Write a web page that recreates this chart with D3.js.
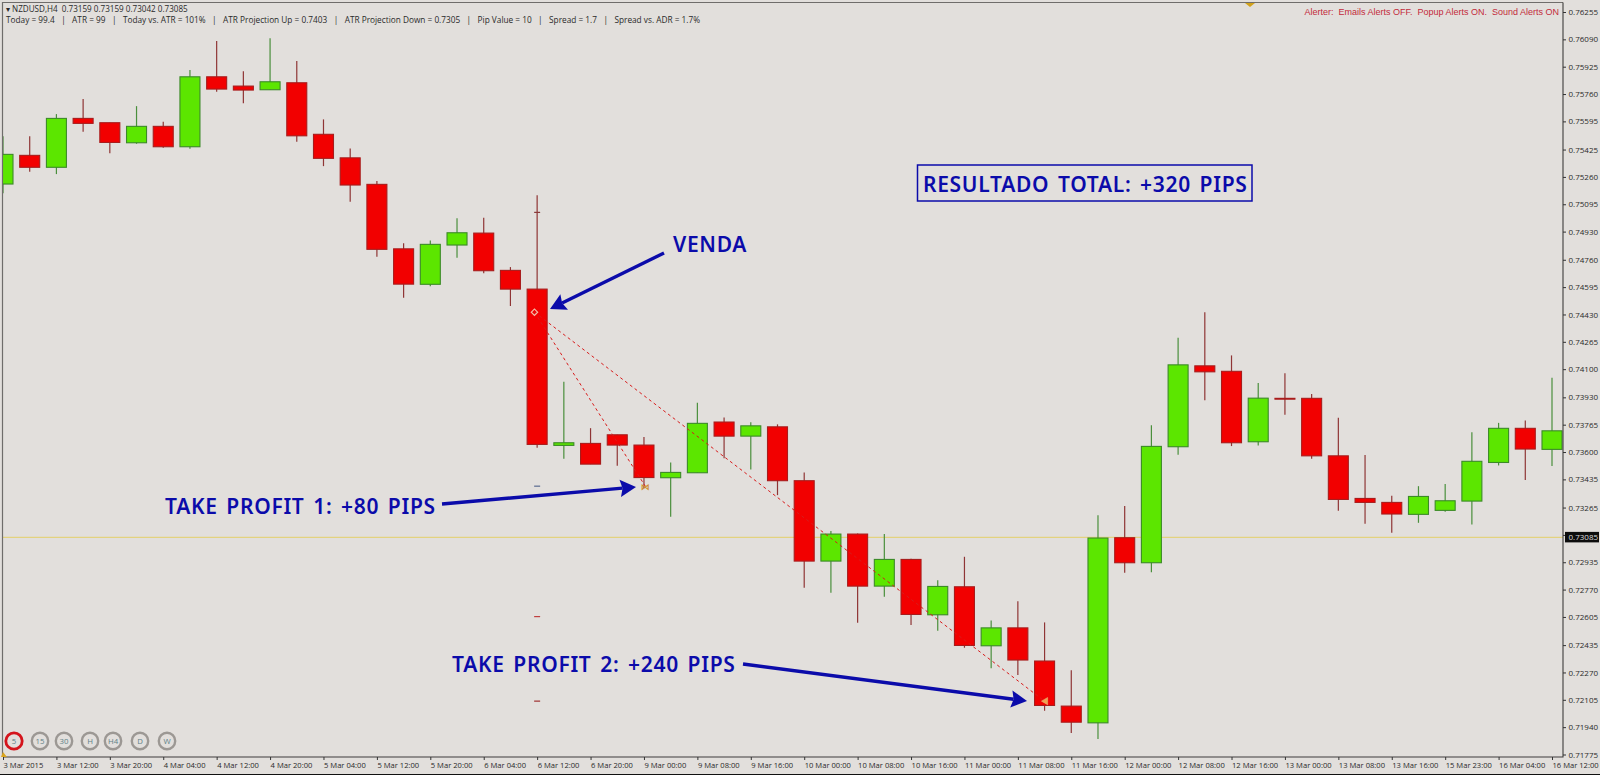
<!DOCTYPE html>
<html>
<head>
<meta charset="utf-8">
<script src="https://d3js.org/d3.v7.min.js"></script>
<style>
html,body{margin:0;padding:0;background:#e2dfdc;overflow:hidden}
svg{display:block}
.mt{font-family:"Open Sans",sans-serif;fill:#2a2a2a}
.note{font-family:"Noto Sans",sans-serif;font-weight:600;fill:#0b0baa;letter-spacing:.7px;word-spacing:2.5px}
</style>
</head>
<body>
<svg id="c" width="1600" height="775"></svg>
<script>
const opens=[.75217,.75390,.75318,.75613,.75587,.75466,.75565,.75442,.75864,.75808,.75786,.75828,.75517,.75375,.75215,.74826,.74612,.74849,.74921,.74696,.74583,.73640,.73652,.73704,.73642,.73445,.73475,.73781,.73696,.73752,.73427,.72942,.73105,.72791,.72952,.72618,.72787,.72431,.72539,.72339,.72067,.71966,.73083,.72932,.73632,.74120,.74087,.73662,.73924,.73924,.73577,.73320,.73296,.73224,.73248,.73304,.73537,.73743,.73616];
const highs=[.75506,.75506,.75639,.75730,.75587,.75687,.75593,.75905,.76080,.75897,.76096,.75959,.75607,.75432,.75235,.74859,.74877,.75010,.75013,.74716,.75150,.74024,.73744,.73704,.73690,.73537,.73897,.73809,.73779,.73767,.73477,.73123,.73109,.73105,.72956,.72827,.72968,.72584,.72699,.72572,.72284,.73219,.73274,.73761,.74289,.74443,.74183,.74016,.74076,.73950,.73807,.73582,.73336,.73394,.73407,.73719,.73776,.73791,.74048];
const lows=[.75162,.75291,.75277,.75532,.75402,.75460,.75436,.75430,.75774,.75704,.75786,.75472,.75325,.75110,.74778,.74531,.74601,.74772,.74678,.74481,.73626,.73559,.73527,.73517,.73382,.73209,.73475,.73562,.73495,.73340,.72781,.72751,.72570,.72727,.72556,.72521,.72419,.72296,.72254,.72039,.71904,.71868,.72871,.72874,.73583,.73913,.73636,.73640,.73825,.73559,.73245,.73167,.73113,.73173,.73239,.73163,.73519,.73431,.73515];
const closes=[.75396,.75318,.75613,.75583,.75468,.75565,.75442,.75864,.75790,.75784,.75834,.75508,.75372,.75211,.74823,.74613,.74853,.74923,.74694,.74583,.73646,.73656,.73527,.73642,.73446,.73477,.73773,.73696,.73758,.73427,.72942,.73105,.72791,.72952,.72620,.72789,.72433,.72539,.72345,.72071,.71970,.73081,.72932,.73634,.74126,.74084,.73656,.73925,.73919,.73577,.73314,.73296,.73226,.73332,.73306,.73544,.73743,.73618,.73728];
const timeLabels=["3 Mar 2015","3 Mar 12:00","3 Mar 20:00","4 Mar 04:00","4 Mar 12:00","4 Mar 20:00","5 Mar 04:00","5 Mar 12:00","5 Mar 20:00","6 Mar 04:00","6 Mar 12:00","6 Mar 20:00","9 Mar 00:00","9 Mar 08:00","9 Mar 16:00","10 Mar 00:00","10 Mar 08:00","10 Mar 16:00","11 Mar 00:00","11 Mar 08:00","11 Mar 16:00","12 Mar 00:00","12 Mar 08:00","12 Mar 16:00","13 Mar 00:00","13 Mar 08:00","13 Mar 16:00","15 Mar 23:00","16 Mar 04:00","16 Mar 12:00"];
const priceTicks=[.76255,.76090,.75925,.75760,.75595,.75425,.75260,.75095,.74930,.74760,.74595,.74430,.74265,.74100,.73930,.73765,.73600,.73435,.73265,.73100,.72935,.72770,.72605,.72435,.72270,.72105,.71940,.71775];
const currentPrice=.73085;
const tradeFrom=[[19.9,.74444],[19.9,.74444]];
const tradeTo=[[24.05,.73394],[39,.72097]];
const levelMarks=[.75046,.73394,.72607,.72097];
const levelColors=["#8a3a3a","#5a6a90","#c04040","#a03030"];
const statLine=["Today = 99.4","ATR = 99","Today vs. ATR = 101%","ATR Projection Up = 0.7403","ATR Projection Down = 0.7305","Pip Value = 10","Spread = 1.7","Spread vs. ADR = 1.7%"];
const periods=["5","15","30","H","H4","D","W"];

const svg=d3.select("#c");
const W=1600,H=775,plotL=3,plotR=1563,plotT=3,plotB=757;
const x=d3.scaleLinear().domain([0,58]).range([3,1552]);
const y=d3.scaleLinear().domain([.76255,.71775]).range([12,754.5]);
const candles=opens.map((o,i)=>({i,o,h:highs[i],l:lows[i],c:closes[i],up:closes[i]>=o}));

svg.append("rect").attr("width",W).attr("height",H).attr("fill","#e2dfdc");

// current price line
svg.append("line").attr("x1",plotL).attr("x2",plotR).attr("y1",y(currentPrice)).attr("y2",y(currentPrice))
  .attr("stroke","#e3d27f").attr("stroke-width",1.4);

// candles (clipped to the plot)
svg.append("clipPath").attr("id","plot").append("rect").attr("x",plotL).attr("y",plotT).attr("width",plotR-plotL).attr("height",plotB-plotT);
const g=svg.append("g").attr("clip-path","url(#plot)");
const bodyW=20;
const cg=g.selectAll("g.k").data(candles).join("g").attr("class","k");
cg.append("line").attr("x1",d=>x(d.i)).attr("x2",d=>x(d.i)).attr("y1",d=>y(d.h)).attr("y2",d=>y(d.l))
  .attr("stroke",d=>d.up?"#4a8f3c":"#8f3535").attr("stroke-width",1.2);
cg.append("rect").attr("x",d=>x(d.i)-bodyW/2).attr("width",bodyW)
  .attr("y",d=>y(Math.max(d.o,d.c))).attr("height",d=>Math.max(Math.abs(y(d.o)-y(d.c)),.6))
  .attr("fill",d=>d.up?"#5ce600":"#f20000").attr("stroke",d=>d.up?"#3c8a28":"#a81c1c").attr("stroke-width",1.1);

// level dashes on the entry candle's column
g.selectAll("line.lv").data(levelMarks).join("line").attr("class","lv")
  .attr("x1",x(20)-3).attr("x2",x(20)+3).attr("y1",d=>y(d)).attr("y2",d=>y(d))
  .attr("stroke",(d,i)=>levelColors[i]).attr("stroke-width",1.2);

// trade lines
g.selectAll("line.tr").data(tradeFrom).join("line").attr("class","tr")
  .attr("x1",d=>x(d[0])).attr("y1",d=>y(d[1]))
  .attr("x2",(d,i)=>x(tradeTo[i][0])).attr("y2",(d,i)=>y(tradeTo[i][1]))
  .attr("stroke","#d81c1c").attr("stroke-width",1).attr("stroke-dasharray","3 3");

// trade markers
g.append("path").attr("d",d3.symbol(d3.symbolSquare,20)())
  .attr("transform",`translate(${x(tradeFrom[0][0])},${y(tradeFrom[0][1])}) rotate(45)`)
  .attr("fill","none").attr("stroke","#f2bda6").attr("stroke-width",1.2);
g.append("text").attr("x",x(tradeTo[0][0])).attr("y",y(tradeTo[0][1])+3.5).attr("text-anchor","middle")
  .attr("font-family","DejaVu Sans").attr("font-size",9).attr("font-weight","bold").attr("fill","#cf9030").text("\u22c8");
g.append("path").attr("d",d3.symbol(d3.symbolTriangle,22)())
  .attr("transform",`translate(${x(tradeTo[1][0])+1},${y(tradeTo[1][1])}) rotate(-90)`)
  .attr("fill","#f0a050").attr("stroke","#e8b070").attr("stroke-width",.6);

// frame
svg.append("path").attr("d",`M${plotL-.5},${plotB}V${plotT-.5}H${plotR}`).attr("fill","none").attr("stroke","#6f6d6b").attr("stroke-width",1.2);
svg.append("path").attr("d",`M${plotR},${plotT-.5}V${plotB}H${plotL}`).attr("fill","none").attr("stroke","#3e3d3c").attr("stroke-width",1.1);

// axes
const yAxis=d3.axisRight(y).tickValues(priceTicks).tickFormat(d3.format(".5f")).tickSize(3).tickPadding(2.5);
const ya=svg.append("g").attr("transform",`translate(${plotR},0)`).call(yAxis);
const xAxis=d3.axisBottom(x).tickValues(timeLabels.map((_,i)=>i*2)).tickFormat((d,i)=>timeLabels[i]).tickSize(3).tickPadding(2);
const xa=svg.append("g").attr("transform",`translate(0,${plotB})`).call(xAxis);
[ya,xa].forEach(a=>{a.select(".domain").remove();a.selectAll("line").attr("stroke","#333");
  a.selectAll("text").attr("class","mt").attr("fill","#2a2a2a");});
ya.selectAll("text").attr("font-size",8);
xa.selectAll("text").attr("font-size",7.6).attr("text-anchor","start").attr("dy","0.75em");

// current price box
svg.append("rect").attr("x",1565).attr("y",y(currentPrice)-5.5).attr("width",34).attr("height",10.5).attr("fill","#0d0d0d");
svg.append("text").attr("class","mt").attr("x",1568.5).attr("y",y(currentPrice)+2.7).attr("font-size",8).style("fill","#dcdcdc").text(d3.format(".5f")(currentPrice));

// header
svg.append("text").attr("class","mt").attr("x",6).attr("y",11.5).attr("font-size",8.1).style("white-space","pre")
  .text("\u25be NZDUSD,H4  0.73159 0.73159 0.73042 0.73085");
svg.append("text").attr("class","mt").attr("x",6).attr("y",22.5).attr("font-size",8.27).style("white-space","pre")
  .text(statLine.join("   |   "));
svg.append("text").attr("x",1559).attr("y",15).attr("text-anchor","end").attr("font-family","Liberation Sans").attr("font-size",9)
  .attr("fill","#c22a3a").style("white-space","pre").text("Alerter:  Emails Alerts OFF.  Popup Alerts ON.  Sound Alerts ON");

// small markers on frame
svg.append("path").attr("d","M1245,3L1255,3L1250,7Z").attr("fill","#d2a21c");
svg.append("path").attr("d","M1,757L7,757L3,752Z").attr("fill","#d9a520");

// period buttons
const btnPos=[14,40,64,90,113,140,167];
const bg=svg.selectAll("g.b").data(periods).join("g").attr("class","b").attr("transform",(d,i)=>`translate(${btnPos[i]},741)`);
bg.append("circle").attr("r",8.2).attr("fill","none").attr("stroke",(d,i)=>i?"#9c9894":"#d4141c").attr("stroke-width",(d,i)=>i?2.4:2.8);
bg.append("text").attr("text-anchor","middle").attr("y",2.8).attr("font-family","Open Sans").attr("font-size",7.8).attr("fill","#5f8288").text(d=>d);

// annotations
function arrow(x1,y1,x2,y2){
  const a=Math.atan2(y2-y1,x2-x1),L=18,b=.5;
  const p=(l,t)=>[x2-l*Math.cos(a+t),y2-l*Math.sin(a+t)];
  const n=p(L*.75,0);
  svg.append("line").attr("x1",x1).attr("y1",y1).attr("x2",n[0]).attr("y2",n[1]).attr("stroke","#0b0baa").attr("stroke-width",3.4);
  svg.append("path").attr("d",d3.line()([[x2,y2],p(L,b),n,p(L,-b)])+"Z").attr("fill","#0b0baa");
}
arrow(664,253,550,309);
arrow(442,504,636,487);
arrow(743,664,1027,701);
const notes=[["VENDA",673,252],["TAKE PROFIT 1: +80 PIPS",165,514],["TAKE PROFIT 2: +240 PIPS",452,672],["RESULTADO TOTAL: +320 PIPS",923,192]];
svg.selectAll("text.note").data(notes).join("text").attr("class","note").attr("x",d=>d[1]).attr("y",d=>d[2]).attr("font-size",21).text(d=>d[0]);
svg.append("rect").attr("x",917.5).attr("y",165).attr("width",334.5).attr("height",36).attr("fill","none").attr("stroke","#0b0baa").attr("stroke-width",1.5);

// bottom window edge
svg.append("line").attr("x1",0).attr("x2",W).attr("y1",774.5).attr("y2",774.5).attr("stroke","#111").attr("stroke-width",1);
</script>
</body>
</html>
